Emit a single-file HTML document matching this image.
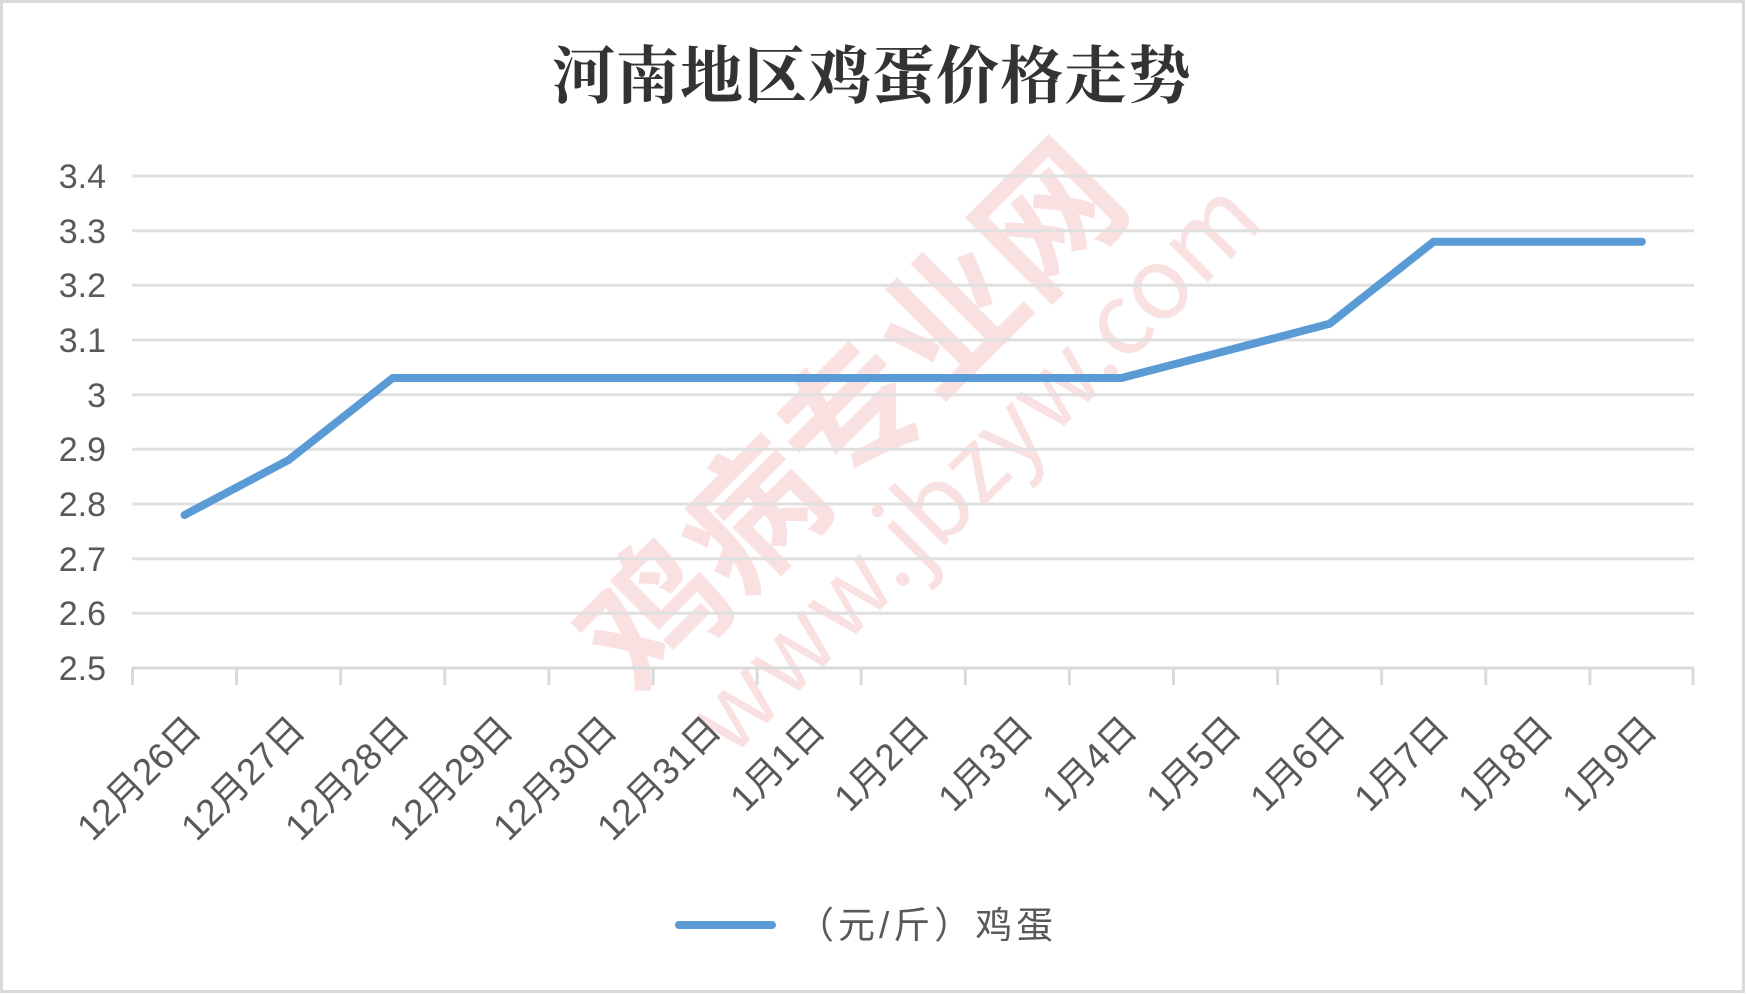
<!DOCTYPE html>
<html><head><meta charset="utf-8"><style>
html,body{margin:0;padding:0;background:#fff}
svg{display:block}
</style></head><body>
<svg width="1746" height="994" viewBox="0 0 1746 994" xmlns="http://www.w3.org/2000/svg">
<rect x="1.5" y="1.5" width="1742" height="990" fill="#fff" stroke="#d9d9d9" stroke-width="3"/>
<!-- watermark -->
<g opacity="0.13" fill="#e02020" font-family="'Noto Sans CJK SC',sans-serif">
<text x="0" y="0" font-size="140" font-weight="bold" transform="translate(640,700) rotate(-45)">鸡病专业网</text>
<text x="0" y="0" font-size="100" transform="translate(730,760) rotate(-45)">www.jbzyw.com</text>
</g>
<g stroke="#e0e0e0" stroke-width="3">
<line x1="132" x2="1694" y1="176" y2="176"/>
<line x1="132" x2="1694" y1="230.7" y2="230.7"/>
<line x1="132" x2="1694" y1="285.3" y2="285.3"/>
<line x1="132" x2="1694" y1="340" y2="340"/>
<line x1="132" x2="1694" y1="394.7" y2="394.7"/>
<line x1="132" x2="1694" y1="449.3" y2="449.3"/>
<line x1="132" x2="1694" y1="504" y2="504"/>
<line x1="132" x2="1694" y1="558.7" y2="558.7"/>
<line x1="132" x2="1694" y1="613.3" y2="613.3"/>
</g>
<g stroke="#d9d9d9" stroke-width="3">
<line x1="132" x2="1694" y1="668" y2="668"/>
<line x1="132.5" x2="132.5" y1="668" y2="685"/><line x1="236.6" x2="236.6" y1="668" y2="685"/><line x1="340.7" x2="340.7" y1="668" y2="685"/><line x1="444.8" x2="444.8" y1="668" y2="685"/><line x1="548.9" x2="548.9" y1="668" y2="685"/><line x1="653" x2="653" y1="668" y2="685"/><line x1="757.1" x2="757.1" y1="668" y2="685"/><line x1="861.2" x2="861.2" y1="668" y2="685"/><line x1="965.3" x2="965.3" y1="668" y2="685"/><line x1="1069.4" x2="1069.4" y1="668" y2="685"/><line x1="1173.5" x2="1173.5" y1="668" y2="685"/><line x1="1277.6" x2="1277.6" y1="668" y2="685"/><line x1="1381.7" x2="1381.7" y1="668" y2="685"/><line x1="1485.8" x2="1485.8" y1="668" y2="685"/><line x1="1589.9" x2="1589.9" y1="668" y2="685"/><line x1="1693" x2="1693" y1="668" y2="685"/>
</g>
<g font-family="'Liberation Sans','Noto Sans CJK SC',sans-serif" font-size="34" fill="#595959" text-anchor="end">
<text x="106" y="188">3.4</text><text x="106" y="243">3.3</text><text x="106" y="297">3.2</text><text x="106" y="352">3.1</text><text x="106" y="407">3</text><text x="106" y="461">2.9</text><text x="106" y="516">2.8</text><text x="106" y="571">2.7</text><text x="106" y="625">2.6</text><text x="106" y="680">2.5</text>
</g>
<g font-family="'Liberation Sans','Noto Sans CJK SC',sans-serif" font-size="37" fill="#595959" text-anchor="end">
<text transform="translate(203,732) rotate(-45)">12月26日</text>
<text transform="translate(307,732) rotate(-45)">12月27日</text>
<text transform="translate(411,732) rotate(-45)">12月28日</text>
<text transform="translate(515,732) rotate(-45)">12月29日</text>
<text transform="translate(619,732) rotate(-45)">12月30日</text>
<text transform="translate(723,732) rotate(-45)">12月31日</text>
<text transform="translate(827,732) rotate(-45)">1月1日</text>
<text transform="translate(931,732) rotate(-45)">1月2日</text>
<text transform="translate(1035,732) rotate(-45)">1月3日</text>
<text transform="translate(1139,732) rotate(-45)">1月4日</text>
<text transform="translate(1243,732) rotate(-45)">1月5日</text>
<text transform="translate(1347,732) rotate(-45)">1月6日</text>
<text transform="translate(1451,732) rotate(-45)">1月7日</text>
<text transform="translate(1555,732) rotate(-45)">1月8日</text>
<text transform="translate(1659,732) rotate(-45)">1月9日</text>
</g>
<polyline fill="none" stroke="#5b9bd5" stroke-width="8" stroke-linecap="round" stroke-linejoin="round"
points="184.5,515 288.6,460 392.7,378 496.8,378 600.9,378 705,378 809.1,378 913.2,378 1017.3,378 1121.4,378 1225.5,351 1329.6,323.7 1433.7,241.7 1537.8,241.7 1641.9,241.7"/>
<text x="872" y="98" text-anchor="middle" font-family="'Noto Serif CJK SC','Noto Sans CJK SC',serif" font-weight="bold" font-size="63" fill="#333" letter-spacing="1">河南地区鸡蛋价格走势</text>
<line x1="679" x2="772" y1="925" y2="925" stroke="#5b9bd5" stroke-width="8" stroke-linecap="round"/>
<text x="797" y="938" font-family="'Liberation Sans','Noto Sans CJK SC',sans-serif" font-size="37" fill="#595959" letter-spacing="4">（元/斤）鸡蛋</text>
</svg>
</body></html>
